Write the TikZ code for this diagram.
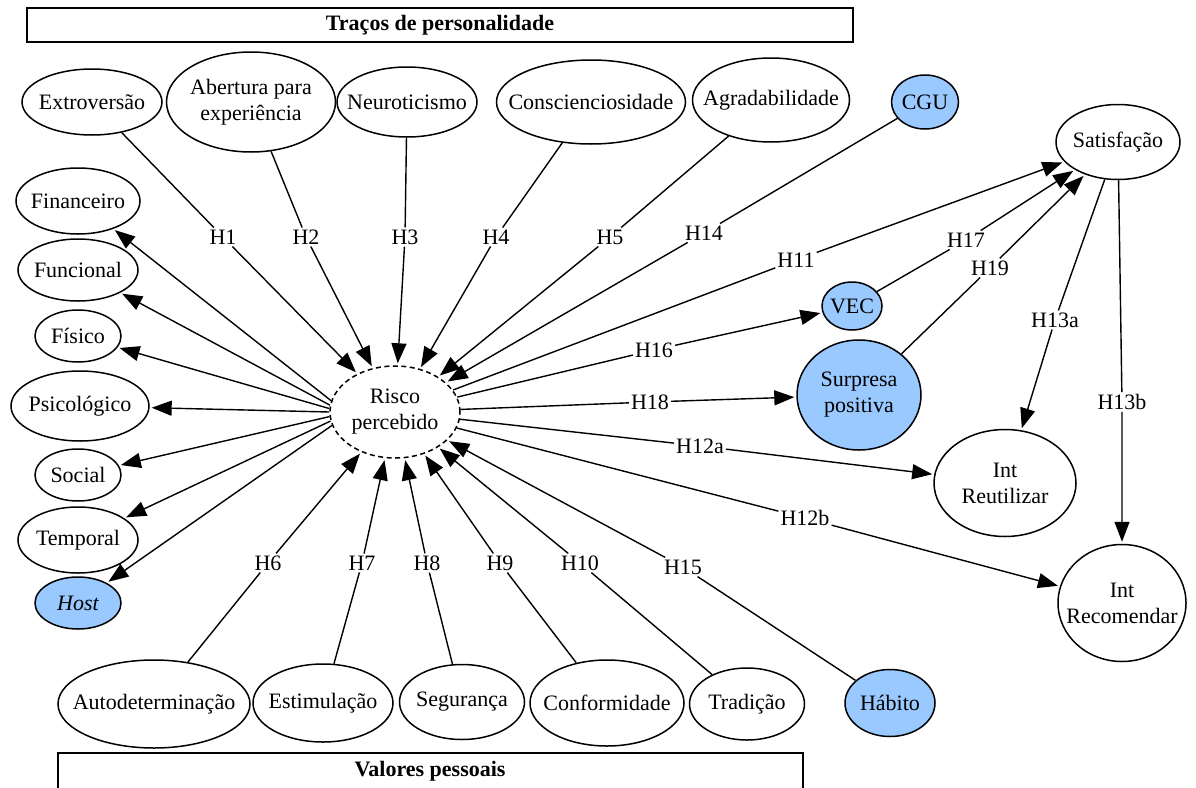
\documentclass[tikz,border=0pt]{standalone}
\usepackage{fontspec}
\setmainfont{Liberation Serif}
\usetikzlibrary{shapes.geometric,arrows.meta}
\definecolor{cblue}{RGB}{153,201,255}
\newcommand{\fs}{\fontsize{22}{26}\selectfont}
\tikzset{
  txt/.style={font=\fs, align=center, inner sep=0pt},
  ell/.style={ellipse, draw, line width=1.5pt, inner sep=0pt},
  hl/.style={ell, fill=cblue},
  lbl/.style={inner sep=2pt, font=\fs},
  edge/.style={line width=1.4pt},
  arr/.style={edge, shorten >=2pt, -{Triangle[length=20pt,width=15pt]}},
  titlebox/.style={draw, line width=1.5pt, minimum height=34pt, inner sep=0pt, font=\fs\bfseries}
}
\begin{document}
\begin{tikzpicture}[x=1pt, y=-1pt]
\useasboundingbox[fill=white] (0,0) rectangle (1196,787);

% group frames
\node[titlebox, minimum width=826pt] (tp) at (440,25) {Traços de personalidade};
\draw[line width=1.5pt] (58,795) -- (58,753) -- (803,753) -- (803,795);
\node[font=\fs\bfseries] (vp) at (430,771) {Valores pessoais};

% personality traits
\node[ell, minimum width=140pt, minimum height=66pt, label={[txt]center:Extroversão}] (ext) at (92,102) {};
\node[ell, minimum width=169pt, minimum height=100pt, label={[txt]center:{Abertura para\\experiência}}] (abe) at (251,102) {};
\node[ell, minimum width=140pt, minimum height=70pt, label={[txt]center:Neuroticismo}] (neu) at (407,102) {};
\node[ell, minimum width=189pt, minimum height=84pt, label={[txt]center:Conscienciosidade}] (con) at (591,102) {};
\node[ell, minimum width=157pt, minimum height=84pt, label={[txt]center:Agradabilidade}] (agr) at (771,100) {};
\node[hl, minimum width=67pt, minimum height=54pt, label={[txt]center:CGU}] (cgu) at (925,102) {};

% risk dimensions
\node[ell, minimum width=124pt, minimum height=66pt, label={[txt]center:Financeiro}] (fin) at (78,201) {};
\node[ell, minimum width=120pt, minimum height=62pt, label={[txt]center:Funcional}] (fun) at (78,270) {};
\node[ell, minimum width=86pt, minimum height=52pt, label={[txt]center:Físico}] (fis) at (78,336) {};
\node[ell, minimum width=138pt, minimum height=70pt, label={[txt]center:Psicológico}] (psi) at (80,406) {};
\node[ell, minimum width=86pt, minimum height=52pt, label={[txt]center:Social}] (soc) at (78,475) {};
\node[ell, minimum width=120pt, minimum height=66pt, label={[txt]center:Temporal}] (tem) at (78,540) {};
\node[hl, minimum width=86pt, minimum height=52pt, label={[txt]center:\itshape Host}] (hos) at (78,603) {};

% central construct
\node[ell, dash pattern=on 5pt off 3.5pt, minimum width=130pt, minimum height=92pt, label={[txt]center:{Risco\\percebido}}] (r) at (395,412) {};

% outcomes
\node[ell, minimum width=124pt, minimum height=75pt, label={[txt]center:Satisfação}] (sat) at (1118,142) {};
\node[hl, minimum width=60pt, minimum height=48pt, label={[txt]center:VEC}] (vec) at (852,306) {};
\node[hl, minimum width=124pt, minimum height=110pt, label={[txt]center:{Surpresa\\positiva}}] (sur) at (859,395) {};
\node[ell, minimum width=142pt, minimum height=107pt, label={[txt]center:{Int\\Reutilizar}}] (reu) at (1005,483) {};
\node[ell, minimum width=128pt, minimum height=117pt, label={[txt]center:{Int\\Recomendar}}] (rec) at (1122,603) {};

% personal values
\node[ell, minimum width=192pt, minimum height=88pt, label={[txt]center:Autodeterminação}] (aut) at (154,704) {};
\node[ell, minimum width=140pt, minimum height=78pt, label={[txt]center:Estimulação}] (est) at (323,703) {};
\node[ell, minimum width=125pt, minimum height=75pt, label={[txt]center:Segurança}] (seg) at (462,702) {};
\node[ell, minimum width=154pt, minimum height=86pt, label={[txt]center:Conformidade}] (cnf) at (607,703) {};
\node[ell, minimum width=115pt, minimum height=72pt, label={[txt]center:Tradição}] (tra) at (747,704) {};
\node[hl, minimum width=90pt, minimum height=67pt, label={[txt]center:Hábito}] (hab) at (890,703) {};

% hypothesis labels
\node[lbl] (h1) at (223,237) {H1};
\node[lbl] (h2) at (306,237) {H2};
\node[lbl] (h3) at (405,237) {H3};
\node[lbl] (h4) at (496,237) {H4};
\node[lbl] (h5) at (610,237) {H5};
\node[lbl] (h14) at (704,233) {H14};
\node[lbl] (h11) at (796,260) {H11};
\node[lbl] (h17) at (966,240) {H17};
\node[lbl] (h19) at (990,268) {H19};
\node[lbl] (h16) at (654,350) {H16};
\node[lbl] (h18) at (650,402) {H18};
\node[lbl] (h12a) at (700,446) {H12a};
\node[lbl] (h12b) at (805,518) {H12b};
\node[lbl] (h13a) at (1055,320) {H13a};
\node[lbl] (h13b) at (1122,402) {H13b};
\node[lbl] (h6) at (268,563) {H6};
\node[lbl] (h7) at (362,563) {H7};
\node[lbl] (h8) at (427,563) {H8};
\node[lbl] (h9) at (500,563) {H9};
\node[lbl] (h10) at (580,563) {H10};
\node[lbl] (h15) at (683,567) {H15};

% traits -> perceived risk
\draw[arr] (ext) -- (h1) -- (r);
\draw[arr] (abe) -- (h2) -- (r);
\draw[arr] (neu) -- (h3) -- (r);
\draw[arr] (con) -- (h4) -- (r);
\draw[arr] (agr) -- (h5) -- (r);
\draw[arr] (cgu) -- (h14) -- (r);

% values -> perceived risk
\draw[arr] (aut) -- (h6) -- (r);
\draw[arr] (est) -- (h7) -- (r);
\draw[arr] (seg) -- (h8) -- (r);
\draw[arr] (cnf) -- (h9) -- (r);
\draw[arr] (tra) -- (h10) -- (r);
\draw[arr] (hab) -- (h15) -- (r);

% perceived risk -> dimensions
\draw[arr] (r.170) -- (fin);
\draw[arr] (r.174) -- (fun);
\draw[arr] (r.177) -- (fis);
\draw[arr] (r.180) -- (psi);
\draw[arr] (r.184) -- (soc);
\draw[arr] (r.188) -- (tem);
\draw[arr] (r.192) -- (hos);

% perceived risk -> outcomes
\draw[arr] (r) -- (h11) -- (sat);
\draw[arr] (r) -- (h16) -- (vec);
\draw[arr] (r) -- (h18) -- (sur);
\draw[arr] (r) -- (h12a) -- (reu);
\draw[arr] (r) -- (h12b) -- (rec);

% into satisfaction and onward
\draw[arr] (vec) -- (h17) -- (sat);
\draw[arr] (sur) -- (h19) -- (sat);
\draw[arr] (sat) -- (h13a) -- (reu);
\draw[arr] (sat) -- (h13b) -- (rec);
\end{tikzpicture}
\end{document}
